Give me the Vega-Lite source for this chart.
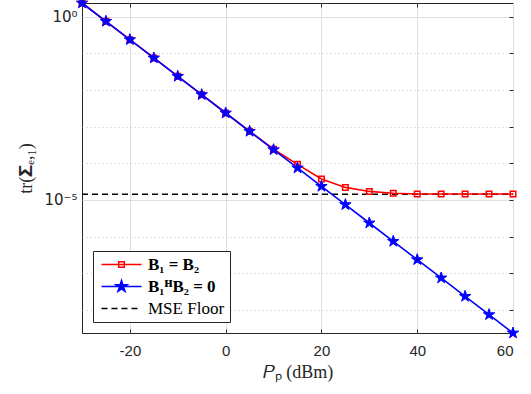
{
  "$schema": "https://vega.github.io/schema/vega-lite/v6.json",
  "width": 431,
  "height": 330,
  "autosize": {"type": "none"},
  "padding": {"left": 82, "top": 3, "right": 18, "bottom": 61},
  "background": "white",
  "config": {
    "view": {"stroke": "#262626", "strokeWidth": 1},
    "axis": {"domain": false, "labelFont": "Liberation Sans", "labelFontSize": 15, "labelColor": "#262626", "tickColor": "#262626", "titleFont": "Liberation Serif", "titleFontSize": 18, "titleFontWeight": "normal", "titleColor": "#262626"},
    "legend": {
      "orient": "bottom-left", "offset": 11, "padding": 5, "strokeColor": "#262626", "fillColor": "white", "cornerRadius": 0,
      "symbolSize": 100, "symbolStrokeWidth": 1.5, "labelOffset": 33, "labelFont": "Liberation Serif", "labelFontSize": 17,
      "labelColor": "black", "rowPadding": 4, "labelLimit": 300
    }
  },
  "data": {
    "values": [
      {"x": -30, "y": 2.34, "series": "B₁ = B₂"},
      {"x": -25, "y": 0.741, "series": "B₁ = B₂"},
      {"x": -20, "y": 0.234, "series": "B₁ = B₂"},
      {"x": -15, "y": 0.0741, "series": "B₁ = B₂"},
      {"x": -10, "y": 0.0234, "series": "B₁ = B₂"},
      {"x": -5, "y": 0.00741, "series": "B₁ = B₂"},
      {"x": 0, "y": 0.00234, "series": "B₁ = B₂"},
      {"x": 5, "y": 0.000741, "series": "B₁ = B₂"},
      {"x": 10, "y": 0.00024, "series": "B₁ = B₂"},
      {"x": 15, "y": 0.000093, "series": "B₁ = B₂"},
      {"x": 20, "y": 0.000037, "series": "B₁ = B₂"},
      {"x": 25, "y": 0.0000219, "series": "B₁ = B₂"},
      {"x": 30, "y": 0.000017, "series": "B₁ = B₂"},
      {"x": 35, "y": 0.0000151, "series": "B₁ = B₂"},
      {"x": 40, "y": 0.0000145, "series": "B₁ = B₂"},
      {"x": 45, "y": 0.0000144, "series": "B₁ = B₂"},
      {"x": 50, "y": 0.0000144, "series": "B₁ = B₂"},
      {"x": 55, "y": 0.0000144, "series": "B₁ = B₂"},
      {"x": 60, "y": 0.0000144, "series": "B₁ = B₂"},
      {"x": -30, "y": 2.34, "series": "B₁ᴴB₂ = 0"},
      {"x": -25, "y": 0.741, "series": "B₁ᴴB₂ = 0"},
      {"x": -20, "y": 0.234, "series": "B₁ᴴB₂ = 0"},
      {"x": -15, "y": 0.0741, "series": "B₁ᴴB₂ = 0"},
      {"x": -10, "y": 0.0234, "series": "B₁ᴴB₂ = 0"},
      {"x": -5, "y": 0.00741, "series": "B₁ᴴB₂ = 0"},
      {"x": 0, "y": 0.00234, "series": "B₁ᴴB₂ = 0"},
      {"x": 5, "y": 0.000741, "series": "B₁ᴴB₂ = 0"},
      {"x": 10, "y": 0.000234, "series": "B₁ᴴB₂ = 0"},
      {"x": 15, "y": 0.0000741, "series": "B₁ᴴB₂ = 0"},
      {"x": 20, "y": 0.0000234, "series": "B₁ᴴB₂ = 0"},
      {"x": 25, "y": 0.00000741, "series": "B₁ᴴB₂ = 0"},
      {"x": 30, "y": 0.00000234, "series": "B₁ᴴB₂ = 0"},
      {"x": 35, "y": 0.000000741, "series": "B₁ᴴB₂ = 0"},
      {"x": 40, "y": 0.000000234, "series": "B₁ᴴB₂ = 0"},
      {"x": 45, "y": 0.0000000741, "series": "B₁ᴴB₂ = 0"},
      {"x": 50, "y": 0.0000000234, "series": "B₁ᴴB₂ = 0"},
      {"x": 55, "y": 0.00000000741, "series": "B₁ᴴB₂ = 0"},
      {"x": 60, "y": 0.00000000234, "series": "B₁ᴴB₂ = 0"},
      {"x": -30, "y": 0.0000143, "series": "MSE Floor"},
      {"x": 60, "y": 0.0000143, "series": "MSE Floor"}
    ]
  },
  "layer": [
    {
      "transform": [{"filter": "datum.series == 'MSE Floor'"}],
      "mark": {"type": "line", "stroke": "black", "strokeWidth": 1.6, "strokeDash": [6, 4]},
      "encoding": {
        "x": {"field": "x", "type": "quantitative", "scale": {"domain": [-30, 60], "nice": false, "zero": false},
          "axis": {"orient": "bottom", "values": [-20, 0, 20, 40, 60], "tickSize": -4, "labelPadding": 14, "gridColor": "#dedede", "gridWidth": 1,
            "labelExpr": "replace(datum.label, '−', '-')", "title": "𝑃ₚ (dBm)", "titlePadding": 5}},
        "y": {"field": "y", "type": "quantitative", "scale": {"type": "log", "domain": [0.00000000234, 2.34], "nice": false},
          "axis": {"orient": "left", "values": [1, 0.1, 0.01, 0.001, 0.0001, 0.00001, 0.000001, 0.0000001, 0.00000001],
            "tickSize": 0, "labelPadding": 5, "labelFont": "DejaVu Sans", "labelFontSize": 15,
            "labelExpr": "abs(log(datum.value)/LN10) < 0.01 ? '10⁰' : (abs(log(datum.value)/LN10 + 5) < 0.01 ? '10⁻⁵' : '')",
            "gridColor": {"condition": {"test": "abs(log(datum.value)/LN10) < 0.01 || abs(log(datum.value)/LN10 + 5) < 0.01", "value": "#dedede"}, "value": "#c4c4c4"},
            "gridDash": {"condition": {"test": "abs(log(datum.value)/LN10) < 0.01 || abs(log(datum.value)/LN10 + 5) < 0.01", "value": []}, "value": [1, 3]},
            "title": "tr(𝚺ₑ,₁)", "titlePadding": 8}}
      }
    },
    {
      "transform": [{"filter": "datum.series == 'B₁ = B₂'"}],
      "mark": {"type": "line", "stroke": "#ff0000", "strokeWidth": 1.6},
      "encoding": {
        "x": {"field": "x", "type": "quantitative", "axis": null},
        "y": {"field": "y", "type": "quantitative", "axis": null}
      }
    },
    {
      "transform": [{"filter": "datum.series == 'B₁ = B₂'"}],
      "mark": {"type": "point", "shape": "square", "size": 30, "filled": false, "stroke": "#ff0000", "strokeWidth": 1.5, "opacity": 1},
      "encoding": {
        "x": {"field": "x", "type": "quantitative", "axis": null},
        "y": {"field": "y", "type": "quantitative", "axis": null}
      }
    },
    {
      "transform": [{"filter": "datum.series == 'B₁ᴴB₂ = 0'"}],
      "mark": {"type": "line", "stroke": "#0000ff", "strokeWidth": 1.6},
      "encoding": {
        "x": {"field": "x", "type": "quantitative", "axis": null},
        "y": {"field": "y", "type": "quantitative", "axis": null}
      }
    },
    {
      "transform": [{"filter": "datum.series == 'B₁ᴴB₂ = 0'"}],
      "mark": {"type": "point", "shape": "M0,-1L0.225,-0.309L0.951,-0.309L0.363,0.118L0.588,0.809L0,0.382L-0.588,0.809L-0.363,0.118L-0.951,-0.309L-0.225,-0.309Z", "size": 144, "filled": true, "fill": "#0000ff", "stroke": "#0000ff", "strokeWidth": 1, "opacity": 1},
      "encoding": {
        "x": {"field": "x", "type": "quantitative", "axis": null},
        "y": {"field": "y", "type": "quantitative", "axis": null}
      }
    },
    {
      "transform": [{"filter": "false"}],
      "mark": {"type": "point", "strokeWidth": 1.5, "opacity": 1},
      "encoding": {
        "x": {"field": "x", "type": "quantitative",
          "axis": {"orient": "top", "values": [-20, 0, 20, 40], "labels": false, "grid": false, "tickSize": -4, "title": null}},
        "y": {"field": "y", "type": "quantitative",
          "axis": {"orient": "right", "values": [1, 0.1, 0.01, 0.001, 0.0001, 0.00001, 0.000001, 0.0000001, 0.00000001], "labels": false, "grid": false, "tickSize": -4, "title": null}},
        "stroke": {"field": "series", "type": "nominal",
          "scale": {"domain": ["B₁ = B₂", "B₁ᴴB₂ = 0", "MSE Floor"], "range": ["#ff0000", "#0000ff", "black"]},
          "legend": {"title": null, "labelFontWeight": {"expr": "datum.label == 'MSE Floor' ? 'normal' : 'bold'"}}},
        "fill": {"field": "series", "type": "nominal",
          "scale": {"domain": ["B₁ = B₂", "B₁ᴴB₂ = 0", "MSE Floor"], "range": ["transparent", "#0000ff", "transparent"]},
          "legend": {"title": null, "labelFontWeight": {"expr": "datum.label == 'MSE Floor' ? 'normal' : 'bold'"}}},
        "shape": {"field": "series", "type": "nominal",
          "scale": {"domain": ["B₁ = B₂", "B₁ᴴB₂ = 0", "MSE Floor"],
            "range": [
              "M-1,0L7,0M2.44,-0.56L3.56,-0.56L3.56,0.56L2.44,0.56Z",
              "M-1,0L7,0M3,-1.2L3.27,-0.371L4.141,-0.371L3.436,0.142L3.706,0.971L3,0.458L2.294,0.971L2.564,0.142L1.859,-0.371L2.73,-0.371Z",
              "M-1,0L0.2,0M1,0L2.2,0M3,0L4.2,0M5,0L6.2,0"
            ]},
          "legend": {"title": null, "labelFontWeight": {"expr": "datum.label == 'MSE Floor' ? 'normal' : 'bold'"}}}
      }
    }
  ],
  "resolve": {"axis": {"x": "independent", "y": "independent"}}
}
